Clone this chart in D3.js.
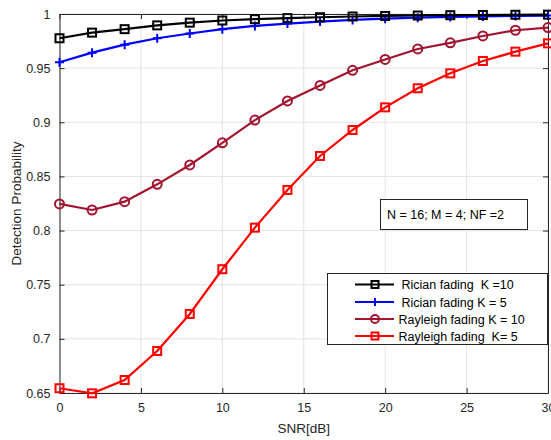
<!DOCTYPE html>
<html>
<head>
<meta charset="utf-8">
<script src="https://cdn.jsdelivr.net/npm/d3@7"></script>
<style>
  body { margin: 0; background: #fff; }
  svg text { font-family: "Liberation Sans", Arial, Helvetica, sans-serif; white-space: pre; }
</style>
</head>
<body>
<div id="chart"></div>
<script>
// SNR values (dB)
var snr = [0, 2, 4, 6, 8, 10, 12, 14, 16, 18, 20, 22, 24, 26, 28, 30]

// detection probability
var ricianK10 = [0.9776, 0.9828, 0.986, 0.9895, 0.992, 0.994, 0.9952, 0.9962, 0.997, 0.9977, 0.9982, 0.9986, 0.9989, 0.9991, 0.9993, 0.9994]
var ricianK5 = [0.9554, 0.9643, 0.9717, 0.9776, 0.982, 0.986, 0.989, 0.9912, 0.993, 0.9945, 0.9957, 0.9966, 0.9973, 0.9978, 0.9982, 0.9985]
var rayleighK10 = [0.8246, 0.819, 0.8267, 0.8427, 0.8606, 0.881, 0.902, 0.9197, 0.934, 0.948, 0.958, 0.9677, 0.9734, 0.9797, 0.985, 0.9875]
var rayleighK5 = [0.6544, 0.6497, 0.662, 0.6888, 0.723, 0.7643, 0.8027, 0.8375, 0.8689, 0.8929, 0.9138, 0.9314, 0.9452, 0.9566, 0.9652, 0.9729]

var yTicks = [0.65, 0.7, 0.75, 0.8, 0.85, 0.9, 0.95, 1]
var xTicks = [0, 5, 10, 15, 20, 25, 30]

var series = [
  {name: "Rician fading  K =10", values: ricianK10, color: "#000000", marker: "square"},
  {name: "Rician fading K = 5", values: ricianK5, color: "#0000ff", marker: "plus"},
  {name: "Rayleigh fading K = 10", values: rayleighK10, color: "#a2142f", marker: "circle"},
  {name: "Rayleigh fading  K= 5", values: rayleighK5, color: "#ff0000", marker: "square"}
]

var width = 551, height = 440
var margin = {top: 14, right: 3, bottom: 47, left: 59.5}
var w = width - margin.left - margin.right
var h = height - margin.top - margin.bottom

var svg = d3.select("#chart").append("svg")
  .attr("width", width)
  .attr("height", height)

var g = svg.append("g")
  .attr("transform", "translate(" + margin.left + "," + margin.top + ")")

var x = d3.scaleLinear().domain([0, 30]).range([0, w])
var y = d3.scaleLinear().domain([0.65, 1]).range([h, 0])

// grid
g.append("g").selectAll("line.gx")
  .data(xTicks).enter().append("line")
  .attr("x1", d => x(d)).attr("x2", d => x(d))
  .attr("y1", 0).attr("y2", h)
  .attr("stroke", "#e3e3e3").attr("stroke-width", 1)
g.append("g").selectAll("line.gy")
  .data(yTicks).enter().append("line")
  .attr("y1", d => y(d)).attr("y2", d => y(d))
  .attr("x1", 0).attr("x2", w)
  .attr("stroke", "#e3e3e3").attr("stroke-width", 1)

// axes (MATLAB box style, ticks inward)
var axColor = "#262626"
var xAxis = g.append("g").attr("transform", "translate(0," + h + ")")
  .call(d3.axisBottom(x).tickValues(xTicks).tickSizeInner(-5).tickSizeOuter(0).tickPadding(10))
var xTop = g.append("g")
  .call(d3.axisTop(x).tickValues(xTicks).tickSizeInner(-5).tickSizeOuter(0).tickFormat(""))
var yAxis = g.append("g")
  .call(d3.axisLeft(y).tickValues(yTicks).tickSizeInner(-5).tickSizeOuter(0).tickPadding(9).tickFormat(d3.format("~g")))
var yRight = g.append("g").attr("transform", "translate(" + w + ",0)")
  .call(d3.axisRight(y).tickValues(yTicks).tickSizeInner(-5).tickSizeOuter(0).tickFormat(""))

;[xAxis, xTop, yAxis, yRight].forEach(function (a) {
  a.select(".domain").attr("stroke", axColor).attr("stroke-width", 1)
  a.selectAll(".tick line").attr("stroke", axColor)
  a.selectAll(".tick text").attr("fill", "#262626").style("font-size", "12.5px")
})

// lines + markers
var line = d3.line()
  .x((d, i) => x(snr[i]))
  .y(d => y(d))

function drawMarker(sel, type, color, size) {
  if (type === "square") {
    sel.append("rect")
      .attr("x", -size / 2).attr("y", -size / 2)
      .attr("width", size).attr("height", size)
      .attr("fill", "none").attr("stroke", color).attr("stroke-width", 2)
  } else if (type === "circle") {
    sel.append("circle")
      .attr("r", size / 2 + 0.5)
      .attr("fill", "none").attr("stroke", color).attr("stroke-width", 2)
  } else {
    sel.append("path")
      .attr("d", "M" + (-size / 2 - 0.5) + ",0H" + (size / 2 + 0.5) + "M0," + (-size / 2 - 0.5) + "V" + (size / 2 + 0.5))
      .attr("stroke", color).attr("stroke-width", 2)
  }
}

// draw from bottom to top so black sits on top
series.slice().reverse().forEach(function (s) {
  g.append("path")
    .datum(s.values)
    .attr("d", line)
    .attr("fill", "none")
    .attr("stroke", s.color)
    .attr("stroke-width", 2.2)
  g.append("g").selectAll("g")
    .data(s.values).enter().append("g")
    .attr("transform", (d, i) => "translate(" + x(snr[i]) + "," + y(d) + ")")
    .each(function () { drawMarker(d3.select(this), s.marker, s.color, 8) })
})

// axis labels
svg.append("text")
  .attr("x", margin.left + w / 2)
  .attr("y", 433)
  .attr("text-anchor", "middle")
  .style("font-size", "13.5px")
  .attr("fill", "#262626")
  .text("SNR[dB]")

svg.append("text")
  .attr("transform", "translate(21," + (margin.top + h / 2) + ")rotate(-90)")
  .attr("text-anchor", "middle")
  .style("font-size", "13.5px")
  .attr("fill", "#262626")
  .text("Detection Probability")

// annotation box
svg.append("rect")
  .attr("x", 380.5).attr("y", 199.5)
  .attr("width", 147).attr("height", 30)
  .attr("fill", "#fff").attr("stroke", "#262626").attr("stroke-width", 1)
svg.append("text")
  .attr("x", 387).attr("y", 219)
  .style("font-size", "12.5px")
  .attr("fill", "#000")
  .text("N = 16; M = 4; NF =2")

// legend
svg.append("rect")
  .attr("x", 327.5).attr("y", 273.5)
  .attr("width", 220).attr("height", 71)
  .attr("fill", "#fff").attr("stroke", "#262626").attr("stroke-width", 1)
var legY = [284.5, 302, 319, 336]
var legTextX = [401.5, 401.5, 398.5, 398.5]
series.forEach(function (s, i) {
  var row = svg.append("g").attr("transform", "translate(0," + legY[i] + ")")
  row.append("line")
    .attr("x1", 355).attr("x2", 394)
    .attr("stroke", s.color).attr("stroke-width", 2.2)
  var m = row.append("g").attr("transform", "translate(375,0)")
  drawMarker(m, s.marker, s.color, 7)
  row.append("text")
    .attr("x", legTextX[i]).attr("y", 4.5)
    .style("font-size", "12.5px")
    .attr("fill", "#000")
    .text(s.name)
})
</script>
</body>
</html>
